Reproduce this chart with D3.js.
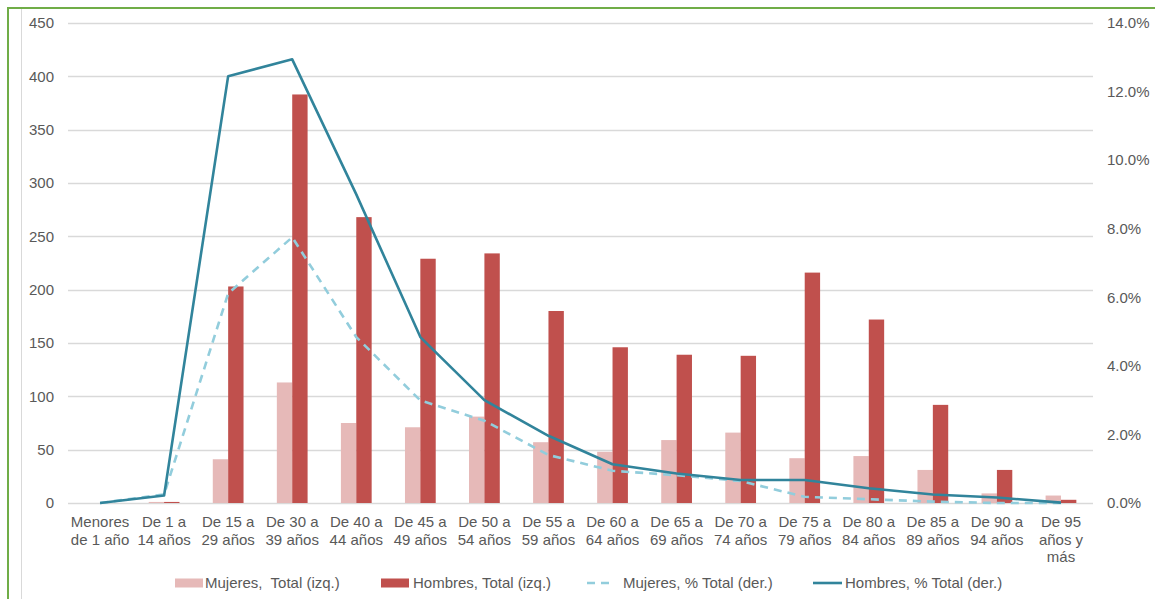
<!DOCTYPE html>
<html>
<head>
<meta charset="utf-8">
<script src="https://cdn.jsdelivr.net/npm/d3@7"></script>
<style>
  body { margin: 0; background: #fff; }
  svg { display: block; font-family: "Liberation Sans", Arial, sans-serif; }
  .tick text { fill: #595959; font-size: 15px; }
  .legend text { fill: #595959; font-size: 15px; }
</style>
</head>
<body>
<svg></svg>
<script>
// age groups (each label split in lines)
const categories = [
  ["Menores", "de 1 año"],
  ["De 1 a", "14 años"],
  ["De 15 a", "29 años"],
  ["De 30 a", "39 años"],
  ["De 40 a", "44 años"],
  ["De 45 a", "49 años"],
  ["De 50 a", "54 años"],
  ["De 55 a", "59 años"],
  ["De 60 a", "64 años"],
  ["De 65 a", "69 años"],
  ["De 70 a", "74 años"],
  ["De 75 a", "79 años"],
  ["De 80 a", "84 años"],
  ["De 85 a", "89 años"],
  ["De 90 a", "94 años"],
  ["De 95", "años y", "más"]
];

const mujeresTotal = [0, 1, 41, 113, 75, 71, 81, 57, 48, 59, 66, 42, 44, 31, 9, 7];
const hombresTotal = [0, 1, 203, 383, 268, 229, 234, 180, 146, 139, 138, 216, 172, 92, 31, 3];

// percentages (right axis)
const mujeresPct = [0, 0.25, 6.11, 7.75, 4.84, 2.99, 2.4, 1.4, 0.94, 0.81, 0.64, 0.18, 0.11, 0.04, 0.0, 0.0];
const hombresPct = [0, 0.22, 12.45, 12.94, 9.0, 4.84, 3.0, 1.96, 1.13, 0.86, 0.67, 0.67, 0.43, 0.25, 0.16, 0.01];

const leftTicks = [0, 50, 100, 150, 200, 250, 300, 350, 400, 450];
const rightTicks = [0, 2, 4, 6, 8, 10, 12, 14];

const legendLabels = ["Mujeres,  Total (izq.)", "Hombres, Total (izq.)", "Mujeres, % Total (der.)", "Hombres, % Total (der.)"];

let width = 1155;
let height = 599;
let plot = { left: 68, right: 1093, top: 23, bottom: 503 };

const colMuj = "#E6B9B8";
const colHom = "#C0504D";
const colMujLine = "#92CDDC";
const colHomLine = "#31849B";

let svg = d3.select("svg")
    .attr("width", width)
    .attr("height", height);

const idx = d3.range(categories.length);

let xScale = d3.scaleBand()
    .domain(idx)
    .range([plot.left, plot.right])
    .paddingInner(0.52)
    .paddingOuter(0.26);

let xSub = d3.scaleBand()
    .domain(["m", "h"])
    .range([0, xScale.bandwidth()]);

let yScale = d3.scaleLinear()
    .domain([0, 450])
    .range([plot.bottom, plot.top]);

let yPct = d3.scaleLinear()
    .domain([0, 14])
    .range([plot.bottom, plot.top]);

// frame
svg.append("line")
    .attr("x1", 8).attr("x2", 8).attr("y1", 8).attr("y2", height)
    .attr("stroke", "#70AD47").attr("stroke-width", 2);
svg.append("line")
    .attr("x1", 7).attr("x2", width).attr("y1", 8).attr("y2", 8)
    .attr("stroke", "#70AD47").attr("stroke-width", 2);
svg.append("line")
    .attr("x1", 21.5).attr("x2", 21.5).attr("y1", 9).attr("y2", height)
    .attr("stroke", "#D9D9D9").attr("stroke-width", 1);

// gridlines
svg.append("g")
    .selectAll("line")
    .data(leftTicks)
    .enter()
    .append("line")
    .attr("x1", plot.left)
    .attr("x2", plot.right)
    .attr("y1", d => Math.round(yScale(d)) + 0.5)
    .attr("y2", d => Math.round(yScale(d)) + 0.5)
    .attr("stroke", "#D9D9D9")
    .attr("stroke-width", 1.3);

// axes
let yAxis = d3.axisLeft(yScale)
    .tickValues(leftTicks)
    .tickSize(0)
    .tickPadding(14);

svg.append("g")
    .attr("transform", `translate(${plot.left},0)`)
    .call(yAxis)
    .call(g => g.select(".domain").remove());

let yAxisR = d3.axisRight(yPct)
    .tickValues(rightTicks)
    .tickSize(0)
    .tickPadding(14)
    .tickFormat(d => d.toFixed(1) + "%");

svg.append("g")
    .attr("transform", `translate(${plot.right},0)`)
    .call(yAxisR)
    .call(g => g.select(".domain").remove());

let xAxis = d3.axisBottom(xScale)
    .tickSize(0)
    .tickPadding(0)
    .tickFormat("");

let xg = svg.append("g")
    .attr("transform", `translate(0,${plot.bottom})`)
    .call(xAxis);
xg.select(".domain").remove();
xg.selectAll(".tick text")
    .each(function(d) {
        let t = d3.select(this).attr("y", 0).attr("dy", null);
        categories[d].forEach((line, i) => {
            t.append("tspan")
                .attr("x", 0)
                .attr("y", 24 + i * 17.6)
                .text(line);
        });
    });

// bars
let groups = svg.append("g")
    .selectAll("g")
    .data(idx)
    .enter()
    .append("g")
    .attr("transform", d => `translate(${xScale(d)},0)`);

groups.append("rect")
    .attr("x", xSub("m"))
    .attr("width", xSub.bandwidth())
    .attr("y", d => yScale(mujeresTotal[d]))
    .attr("height", d => yScale(0) - yScale(mujeresTotal[d]))
    .attr("fill", colMuj);

groups.append("rect")
    .attr("x", xSub("h"))
    .attr("width", xSub.bandwidth())
    .attr("y", d => yScale(hombresTotal[d]))
    .attr("height", d => yScale(0) - yScale(hombresTotal[d]))
    .attr("fill", colHom);

// lines
let cx = d => xScale(d) + xScale.bandwidth() / 2;

svg.append("path")
    .datum(idx)
    .attr("fill", "none")
    .attr("stroke", colMujLine)
    .attr("stroke-width", 2.6)
    .attr("stroke-dasharray", "8,6")
    .attr("d", d3.line().x(cx).y(d => yPct(mujeresPct[d])));

svg.append("path")
    .datum(idx)
    .attr("fill", "none")
    .attr("stroke", colHomLine)
    .attr("stroke-width", 2.6)
    .attr("stroke-linejoin", "round")
    .attr("d", d3.line().x(cx).y(d => yPct(hombresPct[d])));

// legend
const legX = [175, 381, 587, 813];
const legY = 583;

let leg = svg.append("g").attr("class", "legend");

leg.append("rect").attr("x", legX[0]).attr("y", legY - 4.5).attr("width", 28).attr("height", 9).attr("fill", colMuj);
leg.append("rect").attr("x", legX[1]).attr("y", legY - 4.5).attr("width", 28).attr("height", 9).attr("fill", colHom);
leg.append("line")
    .attr("x1", legX[2]).attr("x2", legX[2] + 22).attr("y1", legY).attr("y2", legY)
    .attr("stroke", colMujLine).attr("stroke-width", 2.6).attr("stroke-dasharray", "8,6");
leg.append("line")
    .attr("x1", legX[3]).attr("x2", legX[3] + 29).attr("y1", legY).attr("y2", legY)
    .attr("stroke", colHomLine).attr("stroke-width", 2.6);

const legTextX = [205, 413, 623, 845];
leg.selectAll("text")
    .data(legendLabels)
    .enter()
    .append("text")
    .attr("x", (d, i) => legTextX[i])
    .attr("y", legY)
    .attr("dy", "0.35em")
    .attr("xml:space", "preserve")
    .style("white-space", "pre")
    .text(d => d);
</script>
</body>
</html>
